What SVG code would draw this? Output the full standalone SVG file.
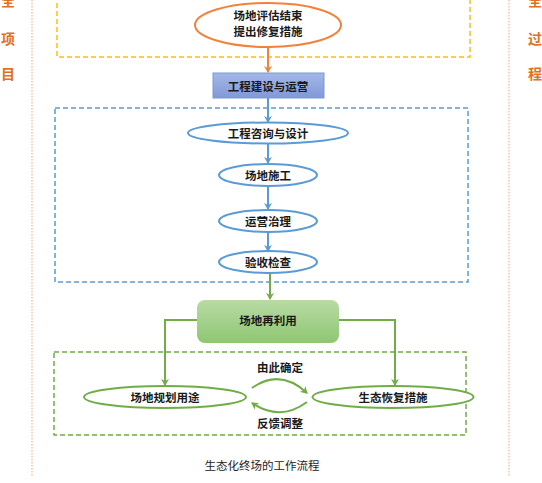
<svg xmlns="http://www.w3.org/2000/svg" width="542" height="483" viewBox="0 0 542 483">
<style>
.t{font-family:"Noto Sans CJK SC",sans-serif;font-size:11.5px;font-weight:700;fill:#1a1a1a;text-anchor:middle;dominant-baseline:central}
.side{font-family:"Noto Sans CJK SC",sans-serif;font-size:14px;font-weight:700;fill:#e2701e;text-anchor:middle;dominant-baseline:central}
.cap{font-family:"Noto Sans CJK SC",sans-serif;font-size:11.5px;fill:#222;text-anchor:middle;dominant-baseline:central}
.be{fill:#fff;stroke:#5b9bd5;stroke-width:2}
.ge{fill:#fff;stroke:#70ad47;stroke-width:2}
.bl{stroke:#5b9bd5;stroke-width:2;fill:none}
.gl{stroke:#70ad47;stroke-width:2;fill:none}
</style>
<defs>
<marker id="ao" markerWidth="8" markerHeight="8" refX="6" refY="4" orient="auto" markerUnits="userSpaceOnUse"><path d="M0,0 L7,4 L0,8 L2,4z" fill="#f4813a"/></marker>
<marker id="ab" markerWidth="8" markerHeight="8" refX="6" refY="4" orient="auto" markerUnits="userSpaceOnUse"><path d="M0,0 L7,4 L0,8 L2,4z" fill="#5b9bd5"/></marker>
<marker id="ag" markerWidth="8" markerHeight="8" refX="6" refY="4" orient="auto" markerUnits="userSpaceOnUse"><path d="M0,0 L7,4 L0,8 L2,4z" fill="#70ad47"/></marker>
<linearGradient id="gb" x1="0" y1="0" x2="0" y2="1"><stop offset="0" stop-color="#a4b8e6"/><stop offset="1" stop-color="#8198d8"/></linearGradient>
<linearGradient id="gg" x1="0" y1="0" x2="0" y2="1"><stop offset="0" stop-color="#b8dba4"/><stop offset="1" stop-color="#8fc672"/></linearGradient>
</defs>
<g id="frames">
<line x1="32" y1="0" x2="32" y2="476" stroke="#f8c4a4" stroke-width="1.5" stroke-dasharray="1.5,1.5"/>
<line x1="509" y1="0" x2="509" y2="476" stroke="#f8c4a4" stroke-width="1.5" stroke-dasharray="1.5,1.5"/>
<path d="M57,-5 V57 H470 V-5" fill="none" stroke="#ffc000" stroke-width="1.5" stroke-dasharray="5,3"/>
<rect x="55" y="108" width="413" height="174" fill="none" stroke="#5b9bd5" stroke-width="1.5" stroke-dasharray="5,3"/>
<rect x="54" y="352" width="412" height="83" fill="none" stroke="#70ad47" stroke-width="1.5" stroke-dasharray="5,3"/>
</g>
<g id="side">
<text class="side" x="8" y="0">全</text>
<text class="side" x="8" y="38">项</text>
<text class="side" x="8" y="73">目</text>
<text class="side" x="535" y="0">全</text>
<text class="side" x="535" y="38">过</text>
<text class="side" x="535" y="73">程</text>
</g>
<g id="connectors">
<line x1="268" y1="47" x2="268" y2="72" stroke="#f4813a" stroke-width="2" marker-end="url(#ao)"/>
<line class="bl" x1="268" y1="98" x2="268" y2="122" marker-end="url(#ab)"/>
<line class="bl" x1="268" y1="144" x2="268" y2="163" marker-end="url(#ab)"/>
<line class="bl" x1="268" y1="186" x2="268" y2="209" marker-end="url(#ab)"/>
<line class="bl" x1="268" y1="232" x2="268" y2="251" marker-end="url(#ab)"/>
<line class="gl" x1="270" y1="273" x2="270" y2="299" marker-end="url(#ag)"/>
<path class="gl" d="M197,320 H165 V385" marker-end="url(#ag)"/>
<path class="gl" d="M339,320 H395 V385" marker-end="url(#ag)"/>
<path class="gl" d="M252,388 Q280,368 307,393" marker-end="url(#ag)"/>
<path class="gl" d="M307,402 Q280,422 252,403" marker-end="url(#ag)"/>
</g>
<g id="n-assess">
<ellipse cx="268" cy="25" rx="73" ry="22" fill="#fff" stroke="#f4813a" stroke-width="2"/>
<text class="t" x="268" y="15">场地评估结束</text>
<text class="t" x="268" y="31">提出修复措施</text>
</g>
<g id="n-build">
<rect x="213" y="73" width="111" height="25" fill="url(#gb)" stroke="#7b97d8" stroke-width="1"/>
<text class="t" x="268" y="86">工程建设与运营</text>
</g>
<g id="n-design">
<ellipse class="be" cx="268" cy="133" rx="80" ry="10.5"/>
<text class="t" x="268" y="133">工程咨询与设计</text>
</g>
<g id="n-construct">
<ellipse class="be" cx="268" cy="175" rx="49" ry="11"/>
<text class="t" x="268" y="175">场地施工</text>
</g>
<g id="n-operate">
<ellipse class="be" cx="268" cy="221" rx="49" ry="11"/>
<text class="t" x="268" y="221">运营治理</text>
</g>
<g id="n-inspect">
<ellipse class="be" cx="268" cy="262" rx="49" ry="11"/>
<text class="t" x="268" y="262">验收检查</text>
</g>
<g id="n-reuse">
<rect x="197" y="300" width="142" height="43" rx="8" fill="url(#gg)"/>
<text class="t" x="268" y="320">场地再利用</text>
</g>
<g id="n-plan">
<ellipse class="ge" cx="165" cy="397" rx="81" ry="11"/>
<text class="t" x="165" y="397">场地规划用途</text>
</g>
<g id="n-restore">
<ellipse class="ge" cx="393" cy="397" rx="80.5" ry="11"/>
<text class="t" x="393" y="397">生态恢复措施</text>
</g>
<g id="labels">
<text class="t" x="280" y="367">由此确定</text>
<text class="t" x="280" y="423">反馈调整</text>
<text class="cap" x="262" y="465">生态化终场的工作流程</text>
</g>
</svg>
